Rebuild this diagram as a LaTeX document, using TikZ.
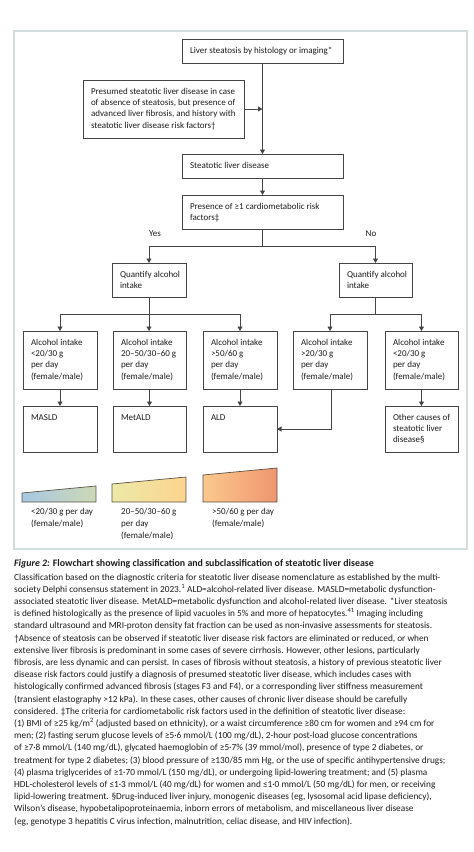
\documentclass[tikz,border=0pt]{standalone}
\usepackage{fontspec}
\setmainfont{Carlito}
\usetikzlibrary{arrows.meta}
\definecolor{framec}{HTML}{D3DEDE}
\definecolor{edgec}{HTML}{454545}
\definecolor{txtc}{HTML}{1C1C1C}
\definecolor{g1l}{HTML}{A7C8E3}
\definecolor{g1r}{HTML}{CDD8B5}
\definecolor{g2l}{HTML}{EDE9A8}
\definecolor{g2r}{HTML}{FBD48E}
\definecolor{g3l}{HTML}{FBC88C}
\definecolor{g3r}{HTML}{EF9670}
\definecolor{wedgec}{HTML}{5A5246}
\newcommand{\bxt}[3]{\parbox[c][#2][t]{#1}{\raggedright\rule{0pt}{14pt}#3}}
\begin{document}
\begin{tikzpicture}[x=1pt,y=-1pt,
  every node/.style={text=txtc},
  fbox/.style={draw=edgec, line width=0.8pt, inner xsep=8pt, inner ysep=0pt, outer sep=0pt, anchor=north west, font=\fontsize{9}{11.4}\selectfont},
  conn/.style={draw=edgec, line width=0.8pt},
  arr/.style={conn, -{Triangle[length=4.5pt,width=5pt]}},
  lbl/.style={inner sep=0pt, font=\fontsize{9}{12}\selectfont, align=left},
  wedge/.style={draw=wedgec, line width=0.7pt},
  capline/.style={anchor=base west, inner sep=0pt, font=\fontsize{9.3}{12}\selectfont},
]
\useasboundingbox (0,0) rectangle (474,852);
\draw[framec, line width=1.2pt] (14,31) rectangle (467,549);

% boxes
\node[fbox] (b1) at (182,39) {\bxt{145pt}{24pt}{Liver steatosis by histology or imaging*}};
\node[fbox] (b2) at (83,80) {\bxt{145pt}{58pt}{\mbox{Presumed steatotic liver disease in case}\\ \mbox{of absence of steatosis, but presence of}\\ \mbox{advanced liver fibrosis, and history with}\\ \mbox{steatotic liver disease risk factors†}}};
\node[fbox] (b3) at (182,154) {\bxt{145pt}{24pt}{Steatotic liver disease}};
\node[fbox] (b4) at (182,195) {\bxt{145pt}{34pt}{\mbox{Presence of ≥1 cardiometabolic risk}\\ factors‡}};
\node[fbox] (q1) at (112,263) {\bxt{58pt}{34pt}{\mbox{Quantify alcohol}\\ intake}};
\node[fbox] (q2) at (339,263) {\bxt{57pt}{34pt}{\mbox{Quantify alcohol}\\ intake}};

\node[fbox] (a1) at (23,331) {\bxt{58pt}{58pt}{\mbox{Alcohol intake}\\ \mbox{<20/30 g}\\ \mbox{per day}\\ \mbox{(female/male)}}};
\node[fbox] (a2) at (113,331) {\bxt{57pt}{58pt}{\mbox{Alcohol intake}\\ \mbox{20–50/30–60 g}\\ \mbox{per day}\\ \mbox{(female/male)}}};
\node[fbox] (a3) at (203,331) {\bxt{58pt}{58pt}{\mbox{Alcohol intake}\\ \mbox{>50/60 g}\\ \mbox{per day}\\ \mbox{(female/male)}}};
\node[fbox] (a4) at (293,331) {\bxt{58pt}{58pt}{\mbox{Alcohol intake}\\ \mbox{>20/30 g}\\ \mbox{per day}\\ \mbox{(female/male)}}};
\node[fbox] (a5) at (385,331) {\bxt{57pt}{58pt}{\mbox{Alcohol intake}\\ \mbox{<20/30 g}\\ \mbox{per day}\\ \mbox{(female/male)}}};

\node[fbox] (o1) at (23,406) {\bxt{58pt}{46pt}{MASLD}};
\node[fbox] (o2) at (113,406) {\bxt{57pt}{46pt}{MetALD}};
\node[fbox] (o3) at (203,406) {\bxt{58pt}{46pt}{ALD}};
\node[fbox] (o5) at (385,406) {\bxt{57pt}{46pt}{\mbox{Other causes of}\\ \mbox{steatotic liver}\\ \mbox{disease§}}};

% connectors
\draw[arr] (b1.south) -- (b3.north);
\draw[arr] (b2.east) -- (b2.east -| b1.south);
\draw[arr] (b3.south) -- (b4.north);
\coordinate (s1) at (b4.south |- 0,246);
\draw[conn] (b4.south) -- (s1);
\draw[arr] (s1) -| (q1.north);
\draw[arr] (s1) -| (q2.north);
\node[lbl] (yes) at (155,234) {Yes};
\node[lbl] (no) at (371,234) {No};

\coordinate (j1) at (q1.south |- 0,314);
\draw[arr] (q1.south) -- (q1.south |- a2.north);
\draw[arr] (j1) -| (a1.north);
\draw[arr] (j1) -| (a3.north);
\coordinate (j2) at (q2.south |- 0,314);
\draw[conn] (q2.south) -- (j2);
\draw[arr] (j2) -| (a4.north);
\draw[arr] (j2) -| (a5.north);

\draw[arr] (a1.south) -- (o1.north);
\draw[arr] (a2.south) -- (a2.south |- o2.north);
\draw[arr] (a3.south) -- (o3.north);
\draw[arr] (a5.south) -- (o5.north);
\coordinate (k4) at (331,389);
\draw[arr] (k4) |- (o3.east);

% wedges
\draw[wedge, left color=g1l, right color=g1r] (22,502) -- (22,493) -- (96,486) -- (96,502) -- cycle;
\draw[wedge, left color=g2l, right color=g2r] (112,502) -- (112,484) -- (186,477) -- (186,502) -- cycle;
\draw[wedge, left color=g3l, right color=g3r] (203,502) -- (203,475) -- (277,468) -- (277,502) -- cycle;
\node[lbl, anchor=north west] (w1) at (31,508.5) {<20/30 g per day\\ (female/male)};
\node[lbl, anchor=north west] (w2) at (121,508.5) {20–50/30–60 g\\ per day\\ (female/male)};
\node[lbl, anchor=north west] (w3) at (212,508.5) {>50/60 g per day\\ (female/male)};

% caption
\node[capline, font=\fontsize{9.9}{12}\selectfont] (t0) at (14,566.5) {\textbf{\textit{Figure 2:} Flowchart showing classification and subclassification of steatotic liver disease}};
\node[capline] (c1) at (14,580) {Classification based on the diagnostic criteria for steatotic liver disease nomenclature as established by the multi-};
\node[capline] (c2) at (14,592.2) {society Delphi consensus statement in 2023.\textsuperscript{1} ALD=alcohol-related liver disease. MASLD=metabolic dysfunction-};
\node[capline] (c3) at (14,604.4) {associated steatotic liver disease. MetALD=metabolic dysfunction and alcohol-related liver disease. *Liver steatosis};
\node[capline] (c4) at (14,616.6) {is defined histologically as the presence of lipid vacuoles in 5\% and more of hepatocytes.\textsuperscript{41} Imaging including};
\node[capline] (c5) at (14,628.8) {standard ultrasound and MRI-proton density fat fraction can be used as non-invasive assessments for steatosis.};
\node[capline] (c6) at (14,641) {†Absence of steatosis can be observed if steatotic liver disease risk factors are eliminated or reduced, or when};
\node[capline] (c7) at (14,653.2) {extensive liver fibrosis is predominant in some cases of severe cirrhosis. However, other lesions, particularly};
\node[capline] (c8) at (14,665.4) {fibrosis, are less dynamic and can persist. In cases of fibrosis without steatosis, a history of previous steatotic liver};
\node[capline] (c9) at (14,677.6) {disease risk factors could justify a diagnosis of presumed steatotic liver disease, which includes cases with};
\node[capline] (c10) at (14,689.8) {histologically confirmed advanced fibrosis (stages F3 and F4), or a corresponding liver stiffness measurement};
\node[capline] (c11) at (14,702) {(transient elastography >12 kPa). In these cases, other causes of chronic liver disease should be carefully};
\node[capline] (c12) at (14,714.2) {considered. ‡The criteria for cardiometabolic risk factors used in the definition of steatotic liver disease:};
\node[capline] (c13) at (14,726.4) {(1) BMI of ≥25 kg/m\textsuperscript{2} (adjusted based on ethnicity), or a waist circumference ≥80 cm for women and ≥94 cm for};
\node[capline] (c14) at (14,738.6) {men; (2) fasting serum glucose levels of ≥5·6 mmol/L (100 mg/dL), 2-hour post-load glucose concentrations};
\node[capline] (c15) at (14,750.8) {of ≥7·8 mmol/L (140 mg/dL), glycated haemoglobin of ≥5·7\% (39 mmol/mol), presence of type 2 diabetes, or};
\node[capline] (c16) at (14,763) {treatment for type 2 diabetes; (3) blood pressure of ≥130/85 mm Hg, or the use of specific antihypertensive drugs;};
\node[capline] (c17) at (14,775.2) {(4) plasma triglycerides of ≥1·70 mmol/L (150 mg/dL), or undergoing lipid-lowering treatment; and (5) plasma};
\node[capline] (c18) at (14,787.4) {HDL-cholesterol levels of ≤1·3 mmol/L (40 mg/dL) for women and ≤1·0 mmol/L (50 mg/dL) for men, or receiving};
\node[capline] (c19) at (14,799.6) {lipid-lowering treatment. §Drug-induced liver injury, monogenic diseases (eg, lysosomal acid lipase deficiency),};
\node[capline] (c20) at (14,811.8) {Wilson’s disease, hypobetalipoproteinaemia, inborn errors of metabolism, and miscellaneous liver disease};
\node[capline] (c21) at (14,824) {(eg, genotype 3 hepatitis C virus infection, malnutrition, celiac disease, and HIV infection).};
\end{tikzpicture}
\end{document}
